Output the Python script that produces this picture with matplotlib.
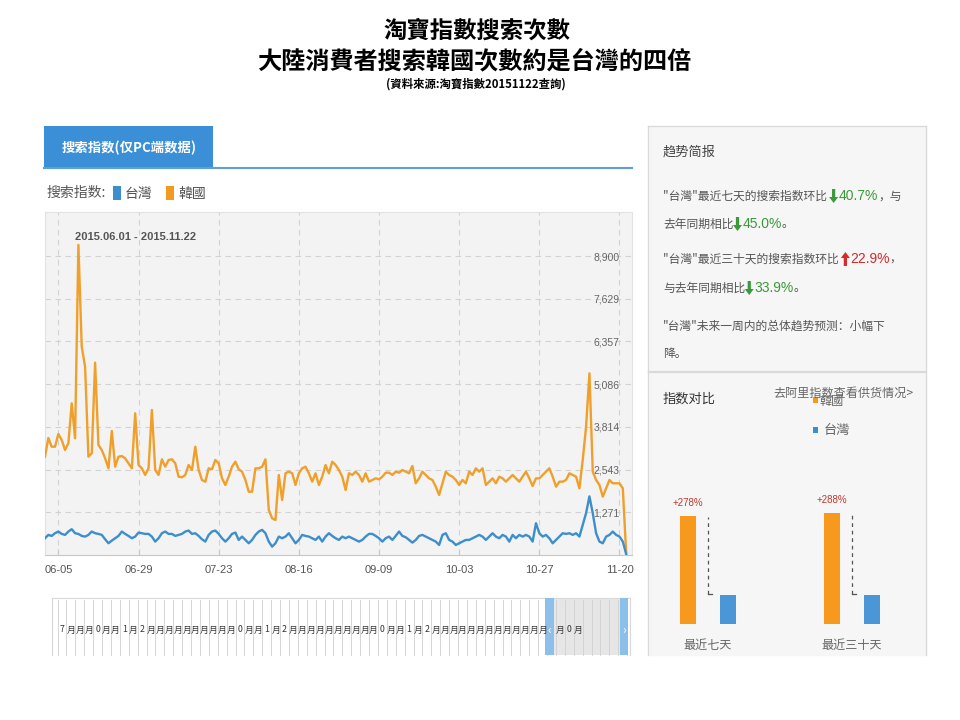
import numpy as np
import pandas as pd
import matplotlib
matplotlib.use('Agg')
import matplotlib.pyplot as plt
from matplotlib.patches import Rectangle, Polygon

plt.rcParams['font.family'] = ['Noto Sans CJK SC', 'DejaVu Sans']

# ---- data ----
start_date = '2015-06-01'
korea = [2926, 3483, 3224, 3224, 3602, 3424, 3126, 3325, 4516, 3473, 9229, 6201, 5605, 2926, 3027,
         5725, 3275, 3126, 2877, 2580, 3692, 2629, 2926, 2947, 2877, 2730, 2580, 4218, 2679, 2580,
         2382, 2580, 4317, 2530, 2382, 2848, 2629, 2828, 2848, 2730, 2331, 2313, 2382, 2679, 2530,
         3224, 2530, 2233, 2182, 2580, 2551, 2828, 2730, 2283, 2084, 2331, 2629, 2777,
         2551, 2480, 2233, 1884, 1884, 2580, 2580, 2629, 2848, 1340, 1093, 1042, 2382, 1637, 2432,
         2480, 2432, 2084, 2432, 2580, 2629, 2432, 2182, 2432, 2084, 2331, 2679, 2432, 2777, 2679,
         2530, 2331, 1935, 2432, 2382, 2480, 2382, 2182, 2432, 2182, 2233, 2283, 2253, 2331, 2450,
         2450, 2382, 2480, 2450, 2530, 2480, 2432, 2650, 2134, 2283, 2480, 2382, 2282,
         2233, 2034, 1786, 2134, 2481, 2382, 2332, 2233, 2084, 2233, 2134, 2481, 2382, 2580, 2481,
         2580, 2084, 2183, 2282, 2134, 2332, 2282, 2183, 2282, 2382, 2282, 2183, 2332, 2481, 2282,
         2054, 2282, 2282, 2382, 2481, 2580, 2332, 2034, 2183, 2183, 2233, 2431, 2382, 2332, 1985,
         2828, 3820, 5408, 2480, 2233, 2084, 1737, 1985, 2233, 2134, 2134, 2134, 1985, 60]
taiwan = [499, 598, 568, 648, 698, 628, 598, 698, 768, 648, 628, 568, 548, 598, 698, 648, 628, 598,
          469, 349, 429, 499, 568, 698, 628, 568, 499, 548, 668, 648, 628, 628, 548, 399, 499, 648,
          698, 628, 628, 568, 598, 628, 698, 728, 628, 648, 568, 469, 399, 598, 698, 728, 628, 499,
          399, 499, 628, 668,
          449, 548, 449, 349, 449, 598, 698, 748, 648, 399, 249, 349, 548, 499, 548, 648, 499, 349,
          449, 598, 568, 548, 499, 449, 548, 399, 548, 648, 568, 499, 449, 548, 499, 548, 499, 449,
          399, 449, 548, 628, 628, 568, 499, 399, 499, 548, 449, 568, 698, 568, 528, 449, 369, 449,
          568, 598, 548, 499,
          449, 399, 299, 598, 648, 449, 399, 299, 349, 399, 449, 449, 499, 548, 598, 548, 449, 548,
          648, 548, 499, 598, 548, 399, 598, 499, 598, 548, 598, 548, 399, 947, 648, 548, 598, 499,
          349, 449, 548, 648, 628, 648, 598, 648, 548, 897, 1246, 1745, 1246, 648, 399, 349, 548,
          598, 698, 598, 548, 399, 30]
y_ticks = [1271, 2543, 3814, 5086, 6357, 7629, 8900]
x_tick_days = [4, 28, 52, 76, 100, 124, 148, 172]

cmp_cats = ['最近七天', '最近三十天']
cmp_korea = [3.78, 3.88]
cmp_taiwan = [1.0, 1.0]
cmp_labels = ['+278%', '+288%']

# garbled month labels of the range navigator
nav_chars = list('7月月月0月月1月2月月月月月月月月月月0月月1月2月月月月月月月月月月0月月1月2月月月月月月月月月月月月月月月0月')

ORANGE = '#f0a02a'
BLUE = '#3d8fcc'
GREEN = '#3a9a3a'
RED = '#d42a2a'
TXT = '#555555'

W, H = 960, 720
def fx(x): return x / W
def fy(y): return 1 - y / H

fig = plt.figure(figsize=(9.6, 7.2), dpi=100)
fig.patch.set_facecolor('white')

# background layer in pixel coords
bg = fig.add_axes([0, 0, 1, 1], zorder=-1)
bg.set_xlim(0, W); bg.set_ylim(H, 0); bg.axis('off')

# ---- slide title ----
tfam = ['Noto Sans CJK TC', 'DejaVu Sans']
fig.text(fx(477), fy(31), '淘寶指數搜索次數', fontsize=16.8, fontweight='heavy', ha='center', va='center', family=tfam)
fig.text(fx(474), fy(61), '大陸消費者搜索韓國次數約是台灣的四倍', fontsize=17.4, fontweight='heavy', ha='center', va='center', family=tfam)
fig.text(fx(476), fy(84), '(資料來源:淘寶指數20151122查詢)', fontsize=8.2, fontweight='heavy', ha='center', va='center', family=tfam)

# ---- left panel header ----
bg.add_patch(Rectangle((44, 126), 169, 42, fc='#3b8fd6', ec='none'))
bg.plot([44, 632], [168, 168], color='#5d9fd6', lw=1.5)
fig.text(fx(129), fy(148), '搜索指数(仅PC端数据)', color='white', fontsize=9.6, fontweight='bold', ha='center', va='center')
fig.text(fx(46), fy(193), '搜索指数:', fontsize=10, color=TXT, va='center')
bg.add_patch(Rectangle((113, 186), 8, 14, fc=BLUE, ec='none'))
fig.text(fx(125), fy(194), '台灣', fontsize=10, color=TXT, va='center')
bg.add_patch(Rectangle((166, 186), 8, 14, fc='#f39a1e', ec='none'))
fig.text(fx(178), fy(194), '韓國', fontsize=10, color=TXT, va='center')

# ---- main line chart ----
days = np.arange(len(korea))
dates = pd.date_range(start_date, periods=len(korea), freq='D')
ax = fig.add_axes([fx(45), fy(555), (632 - 45) / W, (555 - 212) / H])
ax.set_facecolor('#f3f3f3')
ax.plot(days, korea, color=ORANGE, lw=1.7, zorder=3)
ax.plot(days, taiwan, color=BLUE, lw=1.7, zorder=4)
ax.set_xlim(0, (632 - 45) / 3.34)
ax.set_ylim(0, 10210)
ax.set_xticks(x_tick_days)
ax.set_xticklabels(dates[x_tick_days].strftime('%m-%d'), family='Liberation Sans')
ax.set_yticks(y_ticks)
ax.yaxis.tick_right()
ax.set_yticklabels([f'{v:,}' for v in y_ticks], family='Liberation Sans')
ax.tick_params(axis='y', length=0, pad=-9, labelsize=7.5, labelcolor='#666666')
for lab in ax.get_yticklabels():
    lab.set_ha('right')
ax.tick_params(axis='x', length=4, direction='in', color='#c8c8c8', labelsize=8, labelcolor=TXT, pad=7)
ax.grid(True, color='#d2d2d2', ls=(0, (5, 4)), lw=0.8, zorder=1)
ax.set_axisbelow(True)
for s in ['top', 'left', 'right']:
    ax.spines[s].set_color('#e2e2e2')
ax.spines['bottom'].set_color('#c8c8c8')
fig.text(fx(75), fy(237), f"{dates[0]:%Y.%m.%d} - {dates[-1]:%Y.%m.%d}", fontsize=8,
         fontweight='bold', color=TXT, va='center', family='Liberation Sans')

# ---- navigator strip (cut off by the screenshot) ----
bg.fill_between([52, 630], 598, 655, color='white')
bg.plot([52, 630], [598, 598], color='#d8d8d8', lw=0.8)
bg.plot([52, 52], [598, 655], color='#d8d8d8', lw=0.8)
bg.plot([630, 630], [598, 655], color='#d8d8d8', lw=0.8)
bg.add_patch(Rectangle((545, 598), 83, 57, fc='#e6e6e6', ec='none'))
nav_x = np.arange(57.5, 628, 8.9)
for xv in nav_x:
    bg.plot([xv, xv], [600, 655], color='#d0d0d0', lw=0.6)
for k, xv in enumerate(nav_x[:len(nav_chars)]):
    if 545 < xv + 4 < 556 or xv + 4 > 619:
        continue
    fig.text(fx(xv + 4.5), fy(630), nav_chars[k], fontsize=6.3, color='#333333', ha='center', va='center')
bg.add_patch(Rectangle((545, 598), 9, 57, fc='#8cc0ea', ec='none', zorder=5))
bg.add_patch(Rectangle((620, 598), 8, 57, fc='#8cc0ea', ec='none', zorder=5))
fig.text(fx(549.5), fy(630), '‹', color='white', fontsize=9, ha='center', va='center', zorder=10)
fig.text(fx(624), fy(630), '›', color='white', fontsize=9, ha='center', va='center', zorder=10)

# ---- right panels ----
for top, bot in [(126, 371), (372, 655)]:
    bg.fill_between([648, 926], top, bot, color='#f6f6f6')
    bg.plot([648, 926], [top, top], color='#d9d9d9', lw=0.9)
    bg.plot([648, 648], [top, bot], color='#d9d9d9', lw=0.9)
    bg.plot([926, 926], [top, bot], color='#d9d9d9', lw=0.9)
bg.plot([648, 926], [371, 371], color='#d9d9d9', lw=0.9)

fig.text(fx(663), fy(152), '趋势简报', fontsize=9.5, color='#444444', va='center')

renderer = fig.canvas.get_renderer()

def arrow(cx, cy, up, color):
    h, hw, sw, hh = 14, 4.5, 1.6, 6
    pts = [(-sw, -h / 2), (sw, -h / 2), (sw, h / 2 - hh), (hw, h / 2 - hh), (0, h / 2),
           (-hw, h / 2 - hh), (-sw, h / 2 - hh)]
    s = -1 if up else 1
    bg.add_patch(Polygon([(cx + px, cy + s * py) for px, py in pts], closed=True, fc=color, ec='none'))

def rich_line(x, y, pieces):
    for txt, color, kind in pieces:
        if kind == 'text':
            t = fig.text(fx(x), fy(y), txt, fontsize=8.5, color=color, va='center')
            x += t.get_window_extent(renderer).width
        elif kind == 'pct':
            t = fig.text(fx(x), fy(y), txt, fontsize=10, color=color, va='center', family='Liberation Sans')
            x += t.get_window_extent(renderer).width
        else:
            arrow(x + 4, y, kind == 'up', color)
            x += 9

rich_line(663, 196, [('"台灣"最近七天的搜索指数环比 ', TXT, 'text'), ('', GREEN, 'down'),
                     ('40.7%', GREEN, 'pct'), ('，与', TXT, 'text')])
rich_line(663, 224, [('去年同期相比', TXT, 'text'), ('', GREEN, 'down'),
                     ('45.0%', GREEN, 'pct'), ('。', TXT, 'text')])
rich_line(663, 259, [('"台灣"最近三十天的搜索指数环比 ', TXT, 'text'), ('', RED, 'up'),
                     ('22.9%', RED, 'pct'), ('，', TXT, 'text')])
rich_line(663, 288, [('与去年同期相比', TXT, 'text'), ('', GREEN, 'down'),
                     ('33.9%', GREEN, 'pct'), ('。', TXT, 'text')])
rich_line(663, 326, [('"台灣"未来一周内的总体趋势预测：小幅下', TXT, 'text')])
rich_line(663, 354, [('降。', TXT, 'text')])

fig.text(fx(663), fy(399), '指数对比', fontsize=9.5, color='#333333', va='center')
fig.text(fx(773), fy(393), '去阿里指数查看供货情况>', fontsize=8.7, color='#666666', va='center')
bg.add_patch(Rectangle((813, 397), 5, 6, fc='#f39a1e', ec='none'))
fig.text(fx(820), fy(401), '韓國', fontsize=8.7, color='#666666', va='center')
bg.add_patch(Rectangle((813, 427), 5, 6, fc=BLUE, ec='none'))
fig.text(fx(824), fy(430), '台灣', fontsize=9.5, color='#666666', va='center')

# ---- comparison bars ----
bax = fig.add_axes([fx(648), fy(624), 278 / W, (624 - 480) / H])
bax.set_facecolor('none')
xc = np.arange(len(cmp_cats))
off, bw = 0.139, 0.111
bax.bar(xc - off, cmp_korea, width=bw, color='#f7991c')
bax.bar(xc + off, cmp_taiwan, width=bw, color='#4a96d6')
for i in range(len(cmp_cats)):
    bax.text(xc[i] - off, cmp_korea[i] + 0.44, cmp_labels[i], color='#c0392b', fontsize=7,
             ha='center', va='center', family='Liberation Sans')
    bax.plot([xc[i], xc[i]], [cmp_taiwan[i] + 0.05, cmp_korea[i] - 0.05], color='#555555', lw=0.9, ls=(0, (3, 3)))
    bax.plot([xc[i], xc[i] + 0.03], [cmp_taiwan[i] + 0.05, cmp_taiwan[i] + 0.05], color='#555555', lw=0.9)
bax.set_xlim(-0.4167, 1.514)
bax.set_ylim(0, (624 - 480) / 28.6)
bax.set_xticks(xc)
bax.set_xticklabels(cmp_cats)
bax.tick_params(axis='x', length=0, pad=10.5, labelsize=8.7, labelcolor='#666666')
bax.set_yticks([])
for s in bax.spines.values():
    s.set_visible(False)

fig.savefig('out.png', dpi=100, facecolor='white')
